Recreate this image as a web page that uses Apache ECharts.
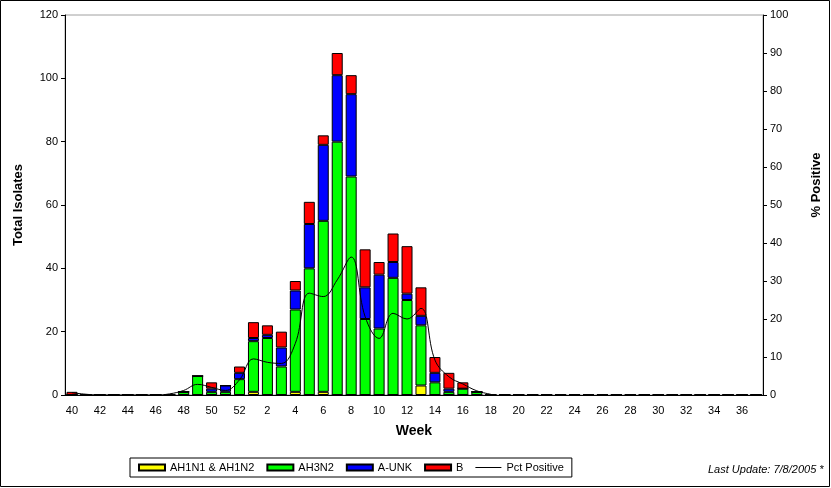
<!DOCTYPE html>
<html>
<head>
<meta charset="utf-8">
<script src="https://cdn.jsdelivr.net/npm/echarts@6/dist/echarts.min.js"></script>
<style>
  html, body { margin: 0; padding: 0; background: #fff; }
  #chart { width: 831px; height: 488px; }
</style>
</head>
<body>
<div id="chart"></div>
<script>
// weeks 40..52 then 1..37
const weeks = [
    "40", "41", "42", "43", "44", "45", "46", "47", "48", "49", "50", "51", "52",
    "1", "2", "3", "4", "5", "6", "7", "8", "9", "10", "11", "12", "13", "14", "15",
    "16", "17", "18", "19", "20", "21", "22", "23", "24", "25", "26", "27", "28",
    "29", "30", "31", "32", "33", "34", "35", "36", "37",
];

// AH1N1 & AH1N2
const ah1 = [
    0, 0, 0, 0, 0, 0, 0, 0, 0, 0, 0, 0, 0,
    1, 0, 0, 1, 0, 1, 0, 0, 0, 0, 0, 0, 3, 0, 0,
    0, 0, 0, 0, 0, 0, 0, 0, 0, 0, 0, 0, 0,
    0, 0, 0, 0, 0, 0, 0, 0, 0,
];
// AH3N2
const ah3 = [
    0, 0, 0, 0, 0, 0, 0, 0, 1, 6, 1, 1, 5,
    16, 18, 9, 26, 40, 54, 80, 69, 24, 21, 37, 30, 19, 4, 1,
    2, 1, 0, 0, 0, 0, 0, 0, 0, 0, 0, 0, 0,
    0, 0, 0, 0, 0, 0, 0, 0, 0,
];
// A-UNK
const aunk = [
    0, 0, 0, 0, 0, 0, 0, 0, 0, 0, 1, 2, 2,
    1, 1, 6, 6, 14, 24, 21, 26, 10, 17, 5, 2, 3, 3, 1,
    0, 0, 0, 0, 0, 0, 0, 0, 0, 0, 0, 0, 0,
    0, 0, 0, 0, 0, 0, 0, 0, 0,
];
// B
const fluB = [
    1, 0, 0, 0, 0, 0, 0, 0, 0, 0, 2, 0, 2,
    5, 3, 5, 3, 7, 3, 7, 6, 12, 4, 9, 15, 9, 5, 5,
    2, 0, 0, 0, 0, 0, 0, 0, 0, 0, 0, 0, 0,
    0, 0, 0, 0, 0, 0, 0, 0, 0,
];
// Pct Positive (right axis)
const pctPositive = [
    0.6, 0.2, 0, 0, 0, 0, 0, 0.3, 1.2, 2.8, 2.0, 1.2, 4.0,
    9.5, 8.6, 8.3, 13.6, 26.8, 25.9, 30.3, 36.3, 20.6, 14.9, 21.5, 20.0, 22.8, 9.2, 4.8,
    2.9, 1.1, 0.2, "-", "-", "-", "-", "-", "-", "-", "-", "-", "-",
    "-", "-", "-", "-", "-", "-", "-", "-", "-",
];

const font = "Arial, 'Liberation Sans', sans-serif";

function barSeries(name, color, data) {
    return {
        name: name,
        type: "bar",
        stack: "isolates",
        barWidth: 11,
        itemStyle: {
            color: color,
            borderColor: "#000",
            borderWidth: 1,
        },
        emphasis: { disabled: true },
        data: data,
    };
}

const option = {
    animation: false,
    backgroundColor: "#fff",
    grid: {
        left: 65,
        right: 63,
        top: 15,
        bottom: 93,
        show: true,
        borderColor: "#a0a0a0",
        borderWidth: 1,
    },
    legend: {
        left: 130,
        top: 458,
        padding: [4, 8, 4, 8],
        itemGap: 12,
        itemWidth: 26,
        itemHeight: 6,
        borderColor: "#000",
        borderWidth: 1,
        textStyle: { fontFamily: font, fontSize: 11, color: "#000" },
        data: [
            { name: "AH1N1 & AH1N2", icon: "rect" },
            { name: "AH3N2", icon: "rect" },
            { name: "A-UNK", icon: "rect" },
            { name: "B", icon: "rect" },
            {
                name: "Pct Positive",
                icon: "path://M0,0 L26,0 L26,1 L0,1 Z",
                itemStyle: { color: "#000", borderWidth: 0 },
            },
        ],
    },
    xAxis: {
        type: "category",
        data: weeks,
        name: "Week",
        nameLocation: "middle",
        nameGap: 29,
        nameTextStyle: { fontFamily: font, fontSize: 14, fontWeight: "bold", color: "#000" },
        axisLine: { lineStyle: { color: "#000", width: 1 } },
        axisTick: { interval: 0, length: 5, lineStyle: { color: "#000" } },
        axisLabel: { interval: 1, margin: 10, fontFamily: font, fontSize: 11, color: "#000" },
        splitLine: { show: false },
    },
    yAxis: [
        {
            type: "value",
            min: 0,
            max: 120,
            interval: 20,
            name: "Total Isolates",
            nameLocation: "middle",
            nameGap: 40,
            nameRotate: 90,
            nameTextStyle: { fontFamily: font, fontSize: 13, fontWeight: "bold", color: "#000" },
            axisLine: { show: true, lineStyle: { color: "#000" } },
            axisTick: { show: true, length: 4, lineStyle: { color: "#000" } },
            axisLabel: { margin: 7, fontFamily: font, fontSize: 11, color: "#000" },
            splitLine: { show: false },
        },
        {
            type: "value",
            min: 0,
            max: 100,
            interval: 10,
            position: "right",
            name: "% Positive",
            nameLocation: "middle",
            nameGap: 47,
            nameRotate: 90,
            nameTextStyle: { fontFamily: font, fontSize: 13, fontWeight: "bold", color: "#000", padding: [0, 0, 0, 40] },
            axisLine: { show: true, lineStyle: { color: "#000" } },
            axisTick: { show: true, length: 4, lineStyle: { color: "#000" } },
            axisLabel: { margin: 7, fontFamily: font, fontSize: 11, color: "#000" },
            splitLine: { show: false },
        },
    ],
    series: [
        barSeries("AH1N1 & AH1N2", "#ffff00", ah1),
        barSeries("AH3N2", "#00ff00", ah3),
        barSeries("A-UNK", "#0000ff", aunk),
        barSeries("B", "#ff0000", fluB),
        {
            name: "Pct Positive",
            type: "line",
            yAxisIndex: 1,
            smooth: 0.4,
            symbol: "none",
            lineStyle: { color: "#000", width: 1 },
            itemStyle: { color: "#000" },
            emphasis: { disabled: true },
            data: pctPositive,
            z: 5,
        },
    ],
    graphic: [
        {
            type: "text",
            left: 708,
            top: 464,
            style: {
                text: "Last Update: 7/8/2005 *",
                font: "italic 11px Arial, 'Liberation Sans', sans-serif",
                fill: "#000",
            },
        },
        {
            type: "rect",
            shape: { x: 0.5, y: 0.5, width: 829, height: 486 },
            style: { fill: "none", stroke: "#000", lineWidth: 1 },
            silent: true,
        },
    ],
};

const chart = echarts.init(document.getElementById("chart"));
chart.setOption(option);
</script>
</body>
</html>
